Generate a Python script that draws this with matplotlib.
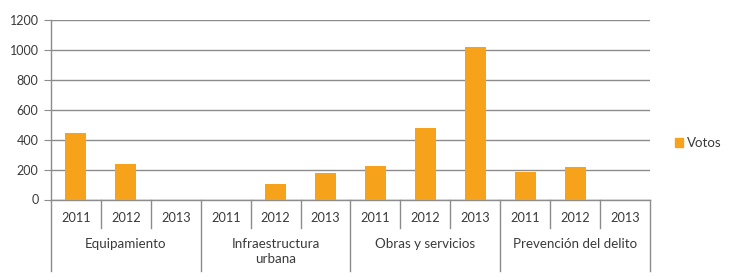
import matplotlib
matplotlib.use("Agg")
import matplotlib.pyplot as plt
from matplotlib.patches import Patch

groups = ["Equipamiento", "Infraestructura\nurbana", "Obras y servicios", "Prevención del delito"]
years = ["2011", "2012", "2013"]
votos = [
    [442, 236, 0],
    [0, 102, 174],
    [223, 477, 1017],
    [182, 216, 0],
]

plt.rcParams['font.family'] = ['Lato', 'DejaVu Sans']
bar_color = "#F7A21B"
grid_color = "#8C8C8C"
text_color = "#3A3A3A"

fig = plt.figure(figsize=(7.32, 2.8), dpi=100)
ax = fig.add_axes([51/732, 1 - 199.5/280, 599/732, 179.5/280])

values = [v for g in votos for v in g]
labels = [y for g in votos for y in years]
xs = list(range(len(values)))
ax.bar(xs, values, width=0.42, color=bar_color, zorder=3, label="Votos")

ax.set_xlim(-0.5, len(values) - 0.5)
ax.set_ylim(0, 1200)
ax.set_yticks(range(0, 1201, 200))
ax.yaxis.grid(True, color=grid_color, linewidth=1.0, zorder=0)
ax.tick_params(axis='y', length=5, color=grid_color, labelsize=9, labelcolor=text_color, pad=4)
ax.set_xticks([])
for s in ["top", "right"]:
    ax.spines[s].set_visible(False)
for s in ["left", "bottom"]:
    ax.spines[s].set_color(grid_color)
    ax.spines[s].set_linewidth(1.0)

trans = ax.get_xaxis_transform()
h = 179.5
short = 28 / h
long_ = 71 / h
for i in range(len(values) + 1):
    x = i - 0.5
    depth = long_ if i % 3 == 0 else short
    ax.plot([x, x], [0, -depth], transform=trans, color=grid_color, lw=1.0, clip_on=False)

for i, lab in enumerate(labels):
    ax.text(i, -18.5 / h, lab, transform=trans, ha='center', va='center',
            fontsize=9.2, color=text_color)

for gi, g in enumerate(groups):
    ax.text(gi * 3 + 1, -38 / h, g, transform=trans, ha='center', va='top',
            fontsize=9.6, color=text_color, linespacing=1.35)

fig.legend(handles=[Patch(color=bar_color, label="Votos")], loc='center left',
           bbox_to_anchor=(663/732, 1 - 143/280), frameon=False, fontsize=9.6,
           handlelength=0.6, handleheight=0.6, handletextpad=0.3, labelcolor=text_color)

fig.savefig("out.png", dpi=100)
